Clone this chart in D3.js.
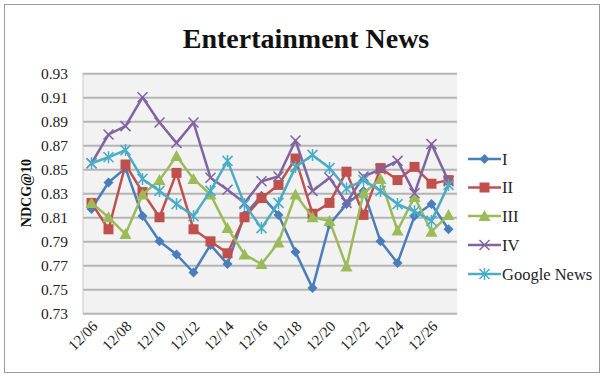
<!DOCTYPE html>
<html><head><meta charset="utf-8">
<script src="https://cdn.jsdelivr.net/npm/d3@7/dist/d3.min.js"></script>
<style>body{margin:0;background:#fff}svg{display:block}</style>
</head><body><svg id="c" width="605" height="377"></svg>
<script>
const dates = ["12/06","12/07","12/08","12/09","12/10","12/11","12/12","12/13","12/14","12/15","12/16","12/17","12/18","12/19","12/20","12/21","12/22","12/23","12/24","12/25","12/26","12/27"];
const seriesI   = [0.817,0.839,0.851,0.811,0.790,0.779,0.764,0.787,0.771,0.812,0.828,0.812,0.781,0.751,0.804,0.821,0.832,0.790,0.772,0.811,0.821,0.800];
const seriesII  = [0.822,0.800,0.854,0.831,0.810,0.847,0.800,0.790,0.780,0.810,0.826,0.837,0.859,0.813,0.822,0.848,0.812,0.851,0.841,0.852,0.838,0.841];
const seriesIII = [0.822,0.810,0.796,0.829,0.841,0.861,0.842,0.829,0.801,0.779,0.771,0.789,0.829,0.810,0.807,0.769,0.830,0.842,0.799,0.827,0.798,0.812];
const seriesIV  = [0.855,0.879,0.886,0.910,0.889,0.872,0.889,0.843,0.833,0.822,0.840,0.844,0.874,0.832,0.843,0.822,0.844,0.850,0.857,0.830,0.871,0.840];
const seriesGN  = [0.855,0.860,0.866,0.842,0.832,0.821,0.811,0.832,0.857,0.821,0.801,0.822,0.852,0.862,0.851,0.834,0.841,0.832,0.821,0.815,0.807,0.837];
const seriesNames = ["I","II","III","IV","Google News"];
const yTicks = [0.73,0.75,0.77,0.79,0.81,0.83,0.85,0.87,0.89,0.91,0.93];
const xTickLabels = ["12/06","12/08","12/10","12/12","12/14","12/16","12/18","12/20","12/22","12/24","12/26"];

const colors = ["#4A7EBB","#C0504D","#9BBB59","#8064A2","#4BACC6"];
const markers = ["diamond","square","triangle","x","asterisk"];
const data = [seriesI,seriesII,seriesIII,seriesIV,seriesGN];

const svg = d3.select("#c");
const serif = "'Liberation Serif','Times New Roman',serif";
svg.append("rect").attr("x",4.5).attr("y",4.5).attr("width",595).attr("height",368)
  .attr("fill","#fff").attr("stroke","#9a9a9a").attr("stroke-width",1);

const L=83,R=457,T=73.3,B=313.3;
const x = d3.scaleBand().domain(dates).range([L,R]);
const y = d3.scaleLinear().domain([0.73,0.93]).range([B,T]);
const cx = d => x(d)+x.bandwidth()/2;

svg.append("rect").attr("x",L).attr("y",T).attr("width",R-L).attr("height",B-T).attr("fill","#f2f2f2");

const ya = svg.append("g").attr("transform",`translate(${L},0)`)
  .call(d3.axisLeft(y).tickValues(yTicks).tickSize(-(R-L)).tickPadding(15).tickFormat(d3.format(".2f")));
ya.select(".domain").remove();
ya.selectAll(".tick line").attr("stroke","#b4b4b4").attr("stroke-width",2);
ya.selectAll(".tick text").attr("font-family",serif).attr("font-size",15.5).attr("fill","#222");
svg.append("line").attr("x1",L).attr("x2",L).attr("y1",T).attr("y2",B).attr("stroke","#c8c8c8").attr("stroke-width",1);

const xa = svg.append("g").attr("transform",`translate(0,${B})`)
  .call(d3.axisBottom(x).tickValues(xTickLabels).tickSize(0).tickPadding(0));
xa.select(".domain").remove();
xa.selectAll(".tick text").attr("font-family",serif).attr("font-size",15).attr("fill","#222")
  .attr("text-anchor","end").attr("dy",0)
  .attr("transform","translate(7,14) rotate(-45)");

svg.append("text").attr("x",306).attr("y",48).attr("text-anchor","middle")
  .attr("font-family",serif).attr("font-weight","bold").attr("font-size",28).attr("fill","#111")
  .text("Entertainment News");
svg.append("text").attr("transform","translate(31,193) rotate(-90)").attr("text-anchor","middle")
  .attr("font-family",serif).attr("font-weight","bold").attr("font-size",14).attr("fill","#111")
  .text("NDCG@10");

function drawMarker(g, type, px, py, color){
  if(type==="diamond"){
    g.append("path").attr("d",`M${px},${py-5}L${px+5},${py}L${px},${py+5}L${px-5},${py}Z`).attr("fill",color);
  } else if(type==="square"){
    g.append("rect").attr("x",px-5).attr("y",py-5).attr("width",10).attr("height",10).attr("fill",color);
  } else if(type==="triangle"){
    g.append("path").attr("d",`M${px},${py-6}L${px+6},${py+5}L${px-6},${py+5}Z`).attr("fill",color);
  } else if(type==="x"){
    g.append("path").attr("d",`M${px-5},${py-5}L${px+5},${py+5}M${px+5},${py-5}L${px-5},${py+5}`).attr("stroke",color).attr("stroke-width",1.5);
  } else {
    g.append("path").attr("d",`M${px-5},${py-5}L${px+5},${py+5}M${px+5},${py-5}L${px-5},${py+5}M${px},${py-6}L${px},${py+6}`).attr("stroke",color).attr("stroke-width",1.5);
  }
}

const line = d3.line().x((d,i)=>cx(dates[i])).y(d=>y(d));
data.forEach((vals,si)=>{
  const g = svg.append("g");
  g.append("path").datum(vals).attr("d",line).attr("fill","none").attr("stroke",colors[si]).attr("stroke-width",2.5).attr("stroke-linejoin","round");
  vals.forEach((v,i)=>drawMarker(g, markers[si], cx(dates[i]), y(v), colors[si]));
});

const legY = [159,187.5,216,245,274];
seriesNames.forEach((n,si)=>{
  const g = svg.append("g");
  g.append("line").attr("x1",468).attr("x2",501).attr("y1",legY[si]).attr("y2",legY[si]).attr("stroke",colors[si]).attr("stroke-width",2.5);
  drawMarker(g, markers[si], 484.5, legY[si], colors[si]);
  g.append("text").attr("x",502).attr("y",legY[si]+5.5).attr("font-family",serif).attr("font-size",16.5).attr("fill","#222").text(n);
});
</script></body></html>
